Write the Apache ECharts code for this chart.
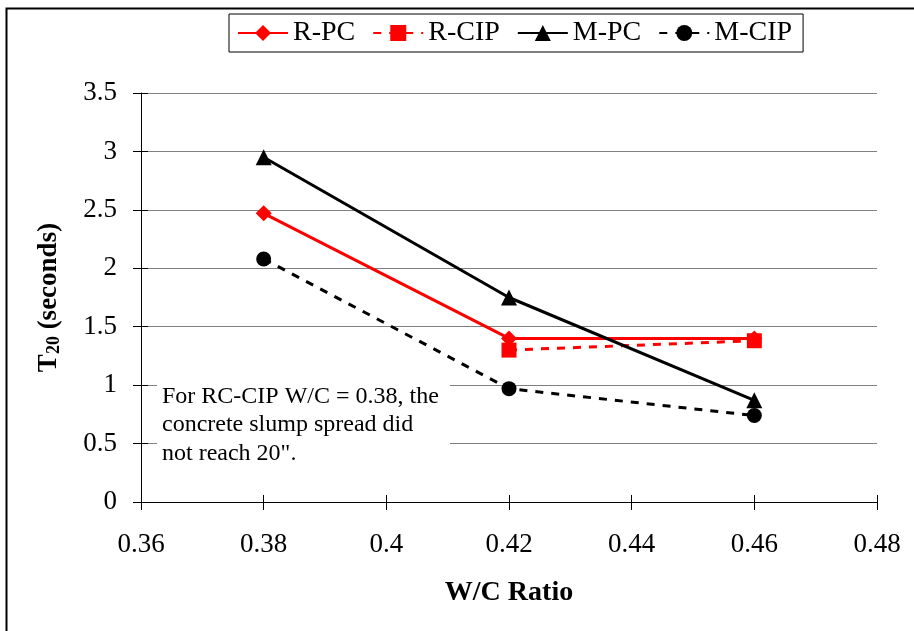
<!DOCTYPE html>
<html><head><meta charset="utf-8">
<script src="https://cdn.jsdelivr.net/npm/echarts@6/dist/echarts.min.js"></script>
<style>html,body{margin:0;padding:0;background:#fff}#c{width:914px;height:631px}</style>
</head><body><div id="c"></div>
<script>
const wc = [0.38, 0.42, 0.46];
const rPC = [2.47, 1.40, 1.40];
const rCIP = [null, 1.30, 1.38];
const mPC = [2.95, 1.75, 0.87];
const mCIP = [2.08, 0.97, 0.74];
const seriesNames = ['R-PC', 'R-CIP', 'M-PC', 'M-CIP'];
const xTicks = {min: 0.36, max: 0.48, step: 0.02};
const yTicks = {min: 0, max: 3.5, step: 0.5};
const note = 'For RC-CIP W/C = 0.38, the\nconcrete slump spread did\nnot reach 20".';

const F = '"Liberation Serif", "Times New Roman", serif';
const pair = arr => wc.map((x, i) => [x, arr[i]]).filter(p => p[1] != null);
const fmt = v => String(parseFloat(v.toFixed(2)));
const chart = echarts.init(document.getElementById('c'), null, {renderer: 'canvas'});
const tickOnly = (extra) => Object.assign({
  show: true,
  axisLine: {show: false},
  axisLabel: {show: false},
  splitLine: {show: false},
  axisTick: {show: true, inside: true, length: 7, lineStyle: {color: '#000'}}
}, extra);
chart.setOption({
  animation: false,
  backgroundColor: '#fff',
  grid: {left: 141, right: 37, top: 93, bottom: 129},
  legend: {
    top: 14, left: 229,
    data: seriesNames,
    borderColor: '#000', borderWidth: 1,
    padding: [5, 11, 5, 8],
    itemGap: 17, itemWidth: 50, itemHeight: 20,
    textStyle: {fontFamily: F, fontSize: 28, color: '#000'}
  },
  xAxis: [{
    type: 'value', min: xTicks.min, max: xTicks.max, interval: xTicks.step,
    name: 'W/C Ratio', nameLocation: 'middle', nameGap: 77,
    nameTextStyle: {fontFamily: F, fontSize: 28, fontWeight: 'bold', color: '#000'},
    axisLine: {show: true, onZero: false, lineStyle: {color: '#000', width: 1}},
    axisTick: {show: true, inside: false, length: 8, lineStyle: {color: '#000'}},
    axisLabel: {fontFamily: F, fontSize: 27, color: '#000', margin: 29, formatter: fmt},
    splitLine: {show: false}
  }, tickOnly({type: 'value', min: xTicks.min, max: xTicks.max, interval: xTicks.step, position: 'bottom'})],
  yAxis: [{
    type: 'value', min: yTicks.min, max: yTicks.max, interval: yTicks.step,
    name: '{b|T}{s|20}{b| (seconds)}', nameLocation: 'middle', nameGap: 78, nameRotate: 90,
    nameTextStyle: {rich: {
      b: {fontFamily: F, fontSize: 27, fontWeight: 'bold', color: '#000'},
      s: {fontFamily: F, fontSize: 18, fontWeight: 'bold', color: '#000', verticalAlign: 'bottom', padding: [10, 0, 0, 0]}
    }},
    axisLine: {show: true, onZero: false, lineStyle: {color: '#000', width: 1}},
    axisTick: {show: true, inside: false, length: 8, lineStyle: {color: '#000'}},
    axisLabel: {fontFamily: F, fontSize: 27, color: '#000', margin: 24, formatter: fmt},
    splitLine: {show: true, lineStyle: {color: '#808080', width: 1}}
  }, tickOnly({type: 'value', min: yTicks.min, max: yTicks.max, interval: yTicks.step, position: 'left'})],
  series: [
    {name: 'R-PC', type: 'line', data: pair(rPC), symbol: 'diamond', symbolSize: 16,
      itemStyle: {color: '#ff0000'}, lineStyle: {color: '#ff0000', width: 3}, z: 3},
    {name: 'R-CIP', type: 'line', data: pair(rCIP), symbol: 'rect', symbolSize: 15,
      itemStyle: {color: '#ff0000'}, lineStyle: {color: '#ff0000', width: 3, type: [8, 8]}, z: 3},
    {name: 'M-PC', type: 'line', data: pair(mPC), symbol: 'triangle', symbolSize: 16,
      itemStyle: {color: '#000'}, lineStyle: {color: '#000', width: 3}, z: 3},
    {name: 'M-CIP', type: 'line', data: pair(mCIP), symbol: 'circle', symbolSize: 15,
      itemStyle: {color: '#000'}, lineStyle: {color: '#000', width: 3, type: [8, 8]}, z: 3}
  ],
  graphic: [
    {type: 'rect', left: 4, top: 6, shape: {width: 930, height: 660},
      style: {fill: 'none', stroke: '#000', lineWidth: 2}, silent: true, z: 0},
    {type: 'rect', left: 157, top: 379, shape: {width: 293, height: 93},
      style: {fill: '#fff', stroke: 'none'}, z: 10},
    {type: 'text', left: 162, top: 382, z: 11,
      style: {text: note, fontFamily: F, fontSize: 24, fill: '#000', lineHeight: 28.5}}
  ]
});
</script></body></html>
